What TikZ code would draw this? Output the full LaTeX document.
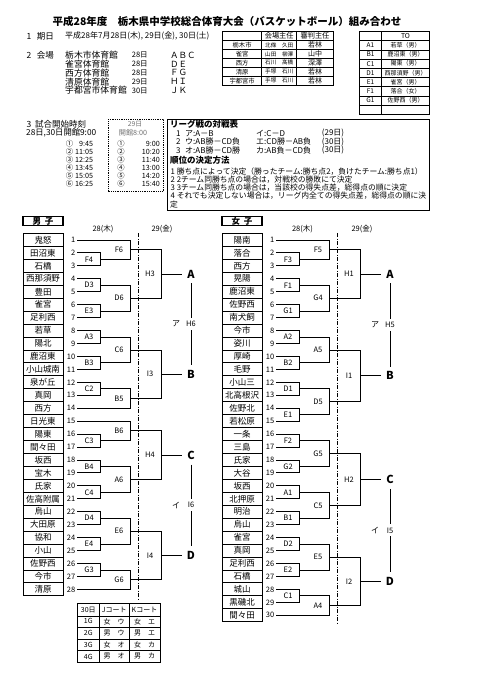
\documentclass[tikz,border=0pt]{standalone}
\usepackage{fontspec}
\setmainfont{Noto Sans CJK JP}
\newcommand{\fsz}[1]{\fontsize{#1}{#1}\selectfont}
\newcommand{\Y}[1]{240+(#1-1)*12.94}
\tikzset{
 bl/.style={line width=0.9pt},
 tl/.style={line width=0.7pt},
 namebox/.style={draw, line width=0.9pt, minimum width=40pt, minimum height=12.94pt, inner sep=0pt, font=\fsz{8.5}},
 num/.style={anchor=east, inner sep=0pt, font=\fsz{7.5}},
 ml/.style={inner sep=0pt, font=\fsz{7.5}},
 lt/.style={font=\bfseries\fsz{11}, inner xsep=5pt, inner ysep=5pt},
 midlbl/.style={inner sep=3pt, font=\fsz{7.5}},
 txt/.style={anchor=west, inner sep=0pt},
 cell/.style={inner sep=0pt},
 dashdot/.style={line width=0.8pt, dash pattern=on 4pt off 1.5pt on 1pt off 1.5pt},
}
% first-round pair
\newcommand{\fr}[3]{%
  \draw[bl] ({#1+77},{\Y{#2}}) -| ({#1+100},{\Y{#2+1}}) -- ({#1+77},{\Y{#2+1}});
  \node[ml] at ({#1+89},{\Y{#2+0.5}}) {#3};}
% second round
\newcommand{\sr}[6]{%
  \draw[bl] ({#1+#2},{\Y{#3}}) -| ({#1+130},{\Y{#5}}) -- ({#1+#4},{\Y{#5}});
  \node[ml] at ({#1+119},{\Y{(#3+#5)/2}}) {#6};}
% third round
\newcommand{\tr}[6]{%
  \draw[bl] ({#1+130},{\Y{#2}}) -| ({#1+161},{\Y{#3}}) -- ({#1+130},{\Y{#3}});
  \node[ml] at ({#1+150},{\Y{(#2+#3)/2}}) {#4};
  \node[lt] (#6) at ({#1+191},{\Y{(#2+#3)/2}}) {#5};
  \draw[bl] ({#1+161},{\Y{(#2+#3)/2}}) -- (#6.west);}
\begin{document}
\begin{tikzpicture}[x=1pt,y=-1pt]
\useasboundingbox (0,0) rectangle (481,680);
\fill[white] (0,0) rectangle (481,680);

% ---------- title ----------
\node[font=\bfseries\fsz{10.5}, inner sep=0pt] (title) at (227,21.7) {平成28年度　栃木県中学校総合体育大会（バスケットボール）組み合わせ};

% ---------- section 1, 2 ----------
\node[txt,font=\fsz{8.5}] (n1) at (26.5,36) {1};
\node[txt,font=\fsz{8.5}] (n1b) at (36.7,36) {期日};
\node[txt,font=\fsz{8}] (n1c) at (65,36) {平成28年7月28日(木), 29日(金), 30日(土)};
\node[txt,font=\fsz{8.5}] (n2) at (26.5,55) {2};
\node[txt,font=\fsz{8.5}] (n2b) at (36.7,55) {会場};
\foreach \v/\d/\c [count=\k from 0] in {栃木市体育館/28日/ＡＢＣ, 雀宮体育館/28日/ＤＥ, 西方体育館/28日/ＦＧ, 清原体育館/29日/ＨＩ, 宇都宮市体育館/30日/ＪＫ} {
  \node[txt,font=\fsz{8.8}] (ven\k) at (65,{55+\k*8.9}) {\v};
  \node[txt,font=\fsz{7.5}] (dat\k) at (131.7,{55+\k*8.9}) {\d};
  \node[txt,font=\fsz{8.5}] (crt\k) at (170,{55+\k*8.9}) {\c};
}

% ---------- venue table ----------
\draw[tl] (222.5,31.5) rectangle (333.3,85);
\foreach \yy in {40.5,49.4,58.3,67.2,76.1} \draw[tl] (222.5,\yy) -- (333.3,\yy);
\draw[tl] (261.7,31.5) -- (261.7,85);
\draw[tl] (296.7,31.5) -- (296.7,85);
\node[cell,font=\fsz{7.2}] (vh2) at (279.2,36) {会場主任};
\node[cell,font=\fsz{7.2}] (vh3) at (315,36) {審判主任};
\foreach \a/\b/\c [count=\k from 0] in {栃木市/北條　久田/若林, 雀宮/山田　柳澤/山中, 西方/石川　髙橋/深澤, 清原/手塚　石川/若林, 宇都宮市/手塚　石川/若林} {
  \node[cell,font=\fsz{6.3}] (va\k) at (242.1,{45+\k*8.9}) {\a};
  \node[cell,font=\fsz{5.6}] (vb\k) at (279.2,{45+\k*8.9}) {\b};
  \node[cell,font=\fsz{7}] (vc\k) at (315,{45+\k*8.9}) {\c};
}

% ---------- TO table ----------
\draw[tl] (359.3,31.5) rectangle (429.3,114.3);
\foreach \k in {1,...,8} \draw[tl] (359.3,{31.5+\k*9.2}) -- (429.3,{31.5+\k*9.2});
\draw[tl] (381.7,31.5) -- (381.7,114.3);
\node[cell,font=\fsz{6.8}] (toh) at (405.5,36.1) {TO};
\foreach \a/\b [count=\k] in {A1/若草（男）, B1/鹿沼東（男）, C1/陽東（男）, D1/西那須野（男）, E1/雀宮（男）, F1/落合（女）, G1/佐野西（男）} {
  \node[cell,font=\fsz{6.5}] (toa\k) at (370.5,{36.1+\k*9.2}) {\a};
  \node[cell,font=\fsz{6}] (tob\k) at (405.5,{36.1+\k*9.2}) {\b};
}

% ---------- section 3: times ----------
\node[txt,font=\fsz{8.5}] (n3) at (26.5,124) {3};
\node[txt,font=\fsz{8.5}] (n3b) at (35,124) {試合開始時刻};
\node[txt,font=\fsz{8.3}] (n3c) at (26,133) {28日,30日開館9:00};
\foreach \c/\t [count=\k from 0] in {①/9:45, ②/11:05, ③/12:25, ④/13:45, ⑤/15:05, ⑥/16:25} {
  \node[cell,font=\fsz{7.3}] (lc\k) at (69.5,{143.5+\k*8.1}) {\c};
  \node[num,font=\fsz{7.2}] (lt\k) at (93.3,{143.5+\k*8.1}) {\t};
}
\draw[line width=0.9pt, dash pattern=on 1pt off 0.8pt] (108,119.3) rectangle (163,191.7);
\node[cell,font=\fsz{6.8},text=black!55] (d29) at (135,124) {29日};
\node[cell,font=\fsz{7.2},text=black!55] (dkk) at (133,133) {開館8:00};
\foreach \c/\t [count=\k from 0] in {①/9:00, ②/10:20, ③/11:40, ④/13:00, ⑤/14:20, ⑥/15:40} {
  \node[cell,font=\fsz{7.3}] (rc\k) at (121,{143.5+\k*8.1}) {\c};
  \node[num,font=\fsz{7.2}] (rt\k) at (160,{143.5+\k*8.1}) {\t};
}

% ---------- league box ----------
\draw[bl] (167,119.3) rectangle (429.3,210);
\node[txt,font=\bfseries\fsz{8.5}] (lg1) at (170,124) {リーグ戦の対戦表};
\node[txt,font=\fsz{8}] at (176,133.3) {1};
\node[txt,font=\fsz{8}] at (185,133.3) {ア:A－B};
\node[txt,font=\fsz{8}] at (256,133.3) {イ:C－D};
\node[txt,font=\fsz{8}] at (321.7,133.3) {(29日)};
\node[txt,font=\fsz{8}] at (176,141.8) {2};
\node[txt,font=\fsz{8}] at (185,141.8) {ウ:AB勝－CD負};
\node[txt,font=\fsz{8}] at (256,141.8) {エ:CD勝－AB負};
\node[txt,font=\fsz{8}] at (321.7,141.8) {(30日)};
\node[txt,font=\fsz{8}] at (176,150.3) {3};
\node[txt,font=\fsz{8}] at (185,150.3) {オ:AB勝－CD勝};
\node[txt,font=\fsz{8}] at (256,150.3) {カ:AB負－CD負};
\node[txt,font=\fsz{8}] at (321.7,150.3) {(30日)};
\node[txt,font=\bfseries\fsz{8.5}] (lg2) at (170,160.3) {順位の決定方法};
\node[txt,font=\fsz{7.8}] at (170.5,171.3) {1 勝ち点によって決定（勝ったチーム:勝ち点2，負けたチーム:勝ち点1）};
\node[txt,font=\fsz{7.8}] at (170.5,179.6) {2 2チーム同勝ち点の場合は，対戦校の勝敗にて決定};
\node[txt,font=\fsz{7.8}] at (170.5,187.8) {3 3チーム同勝ち点の場合は，当該校の得失点差，総得点の順に決定};
\node[txt,font=\fsz{7.8}] at (170.5,195.8) {4 それでも決定しない場合は，リーグ内全ての得失点差，総得点の順に決};
\node[txt,font=\fsz{7.8}] at (170,204.6) {定};

% ---------- headers ----------
\draw[line width=1.1pt] (23,216.5) rectangle (63,225.5);
\node[cell,font=\bfseries\fsz{8.5}] (mh) at (43,221) {男\hspace{4pt}子};
\draw[line width=1.1pt] (222,216.5) rectangle (262,225.5);
\node[cell,font=\bfseries\fsz{8.5}] (wh) at (242,221) {女\hspace{4pt}子};
\node[cell,font=\fsz{7.5}] (md1) at (103,229.5) {28(木)};
\node[cell,font=\fsz{7.5}] (md2) at (162,229.5) {29(金)};
\node[cell,font=\fsz{7.5}] (wd1) at (302.5,229.5) {28(木)};
\node[cell,font=\fsz{7.5}] (wd2) at (362,229.5) {29(金)};

% ---------- dash-dot separators ----------
\draw[dashdot] (138.5,233) -- (138.5,600);
\draw[dashdot] (337.5,233) -- (337.5,624);

% ---------- men names ----------
\foreach \n [count=\i] in {鬼怒,田沼東,石橋,西那須野,豊田,雀宮,足利西,若草,陽北,鹿沼東,小山城南,泉が丘,真岡,西方,日光東,陽東,間々田,坂西,宝木,氏家,佐高附属,烏山,大田原,協和,小山,佐野西,今市,清原} {
  \node[namebox] (m\i) at (43,{\Y{\i}}) {\n};
  \node[num] (mn\i) at (75.5,{\Y{\i}}) {\i};
}
% ---------- women names ----------
\foreach \n [count=\i] in {陽南,落合,西方,晃陽,鹿沼東,佐野西,南犬飼,今市,姿川,厚崎,毛野,小山三,北高根沢,佐野北,若松原,一条,三島,氏家,大谷,坂西,北押原,明治,烏山,雀宮,真岡,足利西,石橋,城山,黒磯北,間々田} {
  \node[namebox] (w\i) at (242,{\Y{\i}}) {\n};
  \node[num] (wn\i) at (274.5,{\Y{\i}}) {\i};
}

% ---------- men bracket ----------
\fr{0}{2}{F4}
\sr{0}{77}{1}{100}{2.5}{F6}
\fr{0}{4}{D3}
\fr{0}{6}{E3}
\sr{0}{100}{4.5}{100}{6.5}{D6}
\tr{0}{1.75}{5.5}{H3}{A}{mA}
\fr{0}{8}{A3}
\fr{0}{10}{B3}
\sr{0}{100}{8.5}{100}{10.5}{C6}
\fr{0}{12}{C2}
\sr{0}{100}{12.5}{77}{14}{B5}
\tr{0}{9.5}{13.25}{I3}{B}{mB}
\fr{0}{16}{C3}
\sr{0}{77}{15}{100}{16.5}{B6}
\fr{0}{18}{B4}
\fr{0}{20}{C4}
\sr{0}{100}{18.5}{100}{20.5}{A6}
\tr{0}{15.75}{19.5}{H4}{C}{mC}
\fr{0}{22}{D4}
\fr{0}{24}{E4}
\sr{0}{100}{22.5}{100}{24.5}{E6}
\fr{0}{26}{G3}
\sr{0}{100}{26.5}{77}{28}{G6}
\tr{0}{23.5}{27.25}{I4}{D}{mD}
\node[midlbl] (mAB) at (191,{\Y{7.5}}) {H6};
\node[ml,font=\fsz{8}] (mABk) at (176,{\Y{7.5}}) {ア};
\draw[bl] (mA) -- (mAB) -- (mB);
\node[midlbl] (mCD) at (191,{\Y{21.5}}) {I6};
\node[ml,font=\fsz{8}] (mCDk) at (176,{\Y{21.5}}) {イ};
\draw[bl] (mC) -- (mCD) -- (mD);

% ---------- women bracket ----------
\fr{199}{2}{F3}
\sr{199}{77}{1}{100}{2.5}{F5}
\fr{199}{4}{F1}
\fr{199}{6}{G1}
\sr{199}{100}{4.5}{100}{6.5}{G4}
\tr{199}{1.75}{5.5}{H1}{A}{wA}
\fr{199}{8}{A2}
\fr{199}{10}{B2}
\sr{199}{100}{8.5}{100}{10.5}{A5}
\fr{199}{12}{D1}
\fr{199}{14}{E1}
\sr{199}{100}{12.5}{100}{14.5}{D5}
\tr{199}{9.5}{13.5}{I1}{B}{wB}
\fr{199}{16}{F2}
\fr{199}{18}{G2}
\sr{199}{100}{16.5}{100}{18.5}{G5}
\fr{199}{20}{A1}
\fr{199}{22}{B1}
\sr{199}{100}{20.5}{100}{22.5}{C5}
\tr{199}{17.5}{21.5}{H2}{C}{wC}
\fr{199}{24}{D2}
\fr{199}{26}{E2}
\sr{199}{100}{24.5}{100}{26.5}{E5}
\fr{199}{28}{C1}
\sr{199}{100}{28.5}{77}{30}{A4}
\tr{199}{25.5}{29.25}{I2}{D}{wD}
\node[midlbl] (wAB) at (390,{\Y{7.5625}}) {H5};
\node[ml,font=\fsz{8}] (wABk) at (375,{\Y{7.5625}}) {ア};
\draw[bl] (wA) -- (wAB) -- (wB);
\node[midlbl] (wCD) at (390,{\Y{23.4375}}) {I5};
\node[ml,font=\fsz{8}] (wCDk) at (375,{\Y{23.4375}}) {イ};
\draw[bl] (wC) -- (wCD) -- (wD);

% ---------- bottom table ----------
\draw[tl] (77.3,603.3) rectangle (160,662.4);
\foreach \yy in {616,627.6,639.2,650.8} \draw[tl] (77.3,\yy) -- (160,\yy);
\draw[tl] (99.3,603.3) -- (99.3,662.4);
\draw[tl] (129,603.3) -- (129,662.4);
\foreach \a/\b/\c [count=\k from 0] in {30日/Jコート/Kコート, 1G/女　ウ/女　エ, 2G/男　ウ/男　エ, 3G/女　オ/女　カ, 4G/男　オ/男　カ} {
  \node[cell,font=\fsz{7}] (ba\k) at (88.3,{609.7+\k*11.7}) {\a};
  \node[cell,font=\fsz{7}] (bb\k) at (114.2,{609.7+\k*11.7}) {\b};
  \node[cell,font=\fsz{7}] (bc\k) at (144.5,{609.7+\k*11.7}) {\c};
}
\end{tikzpicture}
\end{document}
